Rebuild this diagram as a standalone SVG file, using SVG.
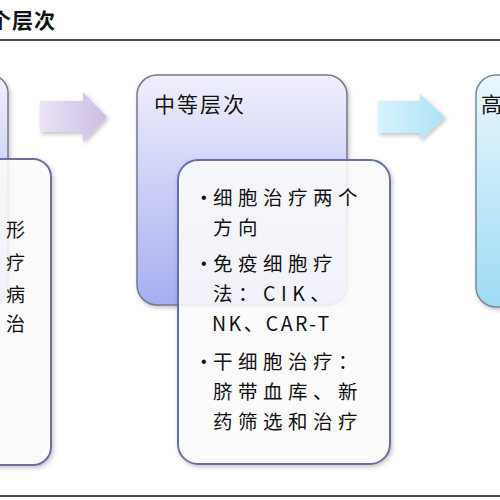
<svg xmlns="http://www.w3.org/2000/svg" width="500" height="500" viewBox="0 0 500 500">
<style>
.cjk{font-family:"Noto Sans CJK SC","Noto Sans",sans-serif;fill:#111}
.t{font-size:19.5px;letter-spacing:5.5px}
.b{font-family:"Liberation Sans",sans-serif;font-size:16px;fill:#111}
.head{font-size:21px}
.lav{fill:url(#gLav);stroke:#777790;stroke-width:1.5}
.cyan{fill:url(#gCyan);stroke:#7a8a99;stroke-width:1.5}
.card{fill:#ffffff;fill-opacity:0.86;stroke-width:2}
</style>
<defs>
<linearGradient id="gLav" x1="0" y1="0" x2="0" y2="1">
<stop offset="0" stop-color="#efeffc"/>
<stop offset="1" stop-color="#a6aef0"/>
</linearGradient>
<linearGradient id="gCyan" x1="0" y1="0" x2="0" y2="1">
<stop offset="0" stop-color="#eaf7fd"/>
<stop offset="1" stop-color="#9ddbf4"/>
</linearGradient>
<linearGradient id="gArrP" x1="0" y1="0" x2="1" y2="0">
<stop offset="0" stop-color="#ece4f6"/>
<stop offset="1" stop-color="#cbbde4"/>
</linearGradient>
<linearGradient id="gArrC" x1="0" y1="0" x2="1" y2="0">
<stop offset="0" stop-color="#d8f3fd"/>
<stop offset="1" stop-color="#aee2f6"/>
</linearGradient>
<filter id="sh" x="-20%" y="-20%" width="140%" height="140%">
<feDropShadow dx="1.5" dy="2" stdDeviation="2" flood-color="#000" flood-opacity="0.25"/>
</filter>
</defs>

<g id="title">
<text class="cjk" x="-10" y="28" font-size="21" font-weight="bold" letter-spacing="1">个层次</text>
<line x1="0" y1="40" x2="500" y2="40" stroke="#111" stroke-width="1.6"/>
<line x1="0" y1="496" x2="500" y2="496" stroke="#111" stroke-width="1.6"/>
</g>

<g id="connectors">
<polygon points="40,101 83,101 83,92 107,117 83,142 83,132 40,132" fill="url(#gArrP)" filter="url(#sh)"/>
<polygon points="378,101 420,101 420,94 445,117 420,140 420,133 378,133" fill="url(#gArrC)" filter="url(#sh)"/>
</g>

<g id="node-left">
<rect class="lav" x="-200" y="75" width="208" height="230" rx="18" filter="url(#sh)"/>
<rect class="card" x="-30" y="159" width="81" height="306" rx="18" stroke="#7a6a9c" filter="url(#sh)"/>
<text class="cjk" font-size="19" x="6" y="237">形</text>
<text class="cjk" font-size="19" x="6" y="270">疗</text>
<text class="cjk" font-size="19" x="6" y="302">病</text>
<text class="cjk" font-size="19" x="6" y="331">治</text>
</g>

<g id="node-middle">
<rect class="lav" x="137" y="75" width="210" height="230" rx="20" filter="url(#sh)"/>
<text class="cjk head" x="154" y="112" letter-spacing="2">中等层次</text>
<rect class="card" x="178" y="160" width="212" height="304" rx="20" stroke="#6670ae" filter="url(#sh)"/>
<text class="b" x="201" y="203">•</text>
<text class="b" x="201" y="269">•</text>
<text class="b" x="201" y="367">•</text>
<g class="cjk t">
<text x="213" y="205">细胞治疗两个</text>
<text x="213" y="235">方向</text>
<text x="213" y="271">免疫细胞疗</text>
<text x="213" y="301">法：CIK、</text>
<text x="212" y="331" letter-spacing="2.5">NK、CAR-T</text>
<text x="213" y="369">干细胞治疗：</text>
<text x="213" y="399">脐带血库、新</text>
<text x="213" y="429">药筛选和治疗</text>
</g>
</g>

<g id="node-right">
<rect class="cyan" x="476" y="75" width="200" height="232" rx="20" filter="url(#sh)"/>
<text class="cjk head" x="481" y="112">高</text>
</g>
</svg>
